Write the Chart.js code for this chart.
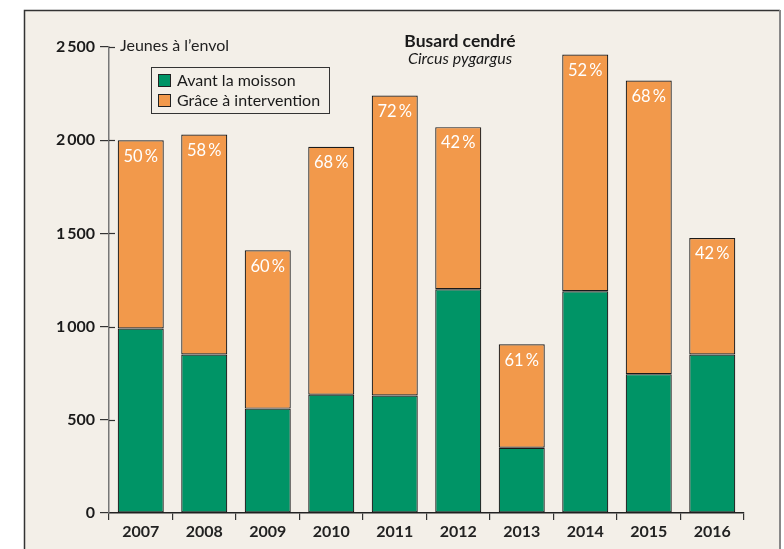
<!DOCTYPE html>
<html>
<head>
<meta charset="utf-8">
<script src="https://cdn.jsdelivr.net/npm/chart.js@4"></script>
<style>
  html, body { margin: 0; padding: 0; background: #fff; }
  #wrap { width: 784px; height: 549px; }
</style>
</head>
<body>
<div id="wrap"><canvas id="barChart" width="784" height="549"></canvas></div>
<script>
// values
const years = ["2007", "2008", "2009", "2010", "2011", "2012", "2013", "2014", "2015", "2016"];
const beforeHarvest = [990, 850, 560, 635, 630, 1200, 350, 1190, 745, 850];
const thanksToAction = [1010, 1180, 850, 1330, 1610, 870, 555, 1270, 1575, 625];
const shareLabels = ["50%", "58%", "60%", "68%", "72%", "42%", "61%", "52%", "68%", "42%"];
const yTicks = [0, 500, 1000, 1500, 2000, 2500];

const FONT = "Lato, 'Open Sans', sans-serif";
const GREEN = "#009466";
const ORANGE = "#f2994b";
const BEIGE = "#f3efe8";

// background frame + inner tick halves + percent labels + legend + titles
const decor = {
    id: "decor",
    beforeDraw(chart) {
        const ctx = chart.ctx;
        ctx.save();
        ctx.fillStyle = BEIGE;
        ctx.fillRect(24, 10, 756, 539);
        ctx.strokeStyle = "#333";
        ctx.lineWidth = 1.5;
        ctx.beginPath();
        ctx.moveTo(24.5, 549);
        ctx.lineTo(24.5, 10.5);
        ctx.lineTo(780, 10.5);
        ctx.stroke();
        ctx.strokeStyle = "#888";
        ctx.lineWidth = 2;
        ctx.beginPath();
        ctx.moveTo(780, 10);
        ctx.lineTo(780, 549);
        ctx.stroke();
        ctx.restore();
    },
    afterDraw(chart) {
        const ctx = chart.ctx;
        const y = chart.scales.y;
        const left = chart.chartArea.left;
        ctx.save();

        // y ticks cross the axis
        ctx.strokeStyle = "#333";
        ctx.lineWidth = 1.2;
        yTicks.forEach(v => {
            if (v === 0) return;
            const py = Math.round(y.getPixelForValue(v)) + 0.5;
            ctx.beginPath();
            ctx.moveTo(left, py);
            ctx.lineTo(left + 6, py);
            ctx.stroke();
        });

        // axis title next to top tick
        ctx.fillStyle = "#222";
        ctx.font = "16px " + FONT;
        ctx.textAlign = "left";
        ctx.textBaseline = "middle";
        ctx.fillText("Jeunes à l\u2019envol", left + 11, y.getPixelForValue(2500) - 1);

        // percent labels
        const meta = chart.getDatasetMeta(1);
        ctx.fillStyle = "#fff";
        ctx.font = "16.5px " + FONT;
        ctx.textAlign = "center";
        ctx.textBaseline = "middle";
        meta.data.forEach((bar, i) => {
            ctx.fillText(shareLabels[i].replace("%", "\u2009%"), bar.x, bar.y + 16);
        });

        // title
        ctx.fillStyle = "#1a1a1a";
        ctx.font = "bold 17.5px " + FONT;
        ctx.fillText("Busard cendré", 460, 41);
        ctx.font = "italic 16px " + FONT;
        ctx.fillText("Circus pygargus", 460, 59);

        // legend
        ctx.fillStyle = BEIGE;
        ctx.fillRect(151, 67, 178, 46);
        ctx.strokeStyle = "#333";
        ctx.lineWidth = 1;
        ctx.strokeRect(151.5, 67.5, 178, 46);
        chart.data.datasets.forEach((ds, i) => {
            const ly = 80 + i * 20;
            ctx.fillStyle = ds.backgroundColor;
            ctx.fillRect(158, ly - 6, 13, 13);
            ctx.strokeStyle = "#222";
            ctx.strokeRect(158.5, ly - 5.5, 12, 12);
            ctx.fillStyle = "#1a1a1a";
            ctx.font = "16px " + FONT;
            ctx.textAlign = "left";
            ctx.fillText(ds.label, 177, ly + 1);
        });
        ctx.restore();
    }
};

function createChart() {
    const ctx = document.getElementById("barChart").getContext("2d");
    new Chart(ctx, {
        type: "bar",
        data: {
            labels: years,
            datasets: [{
                label: "Avant la moisson",
                data: beforeHarvest,
                backgroundColor: GREEN,
                borderColor: "#1a1a1a",
                borderWidth: 1.2,
                borderSkipped: false,
                categoryPercentage: 0.725,
                barPercentage: 1
            }, {
                label: "Grâce à intervention",
                data: thanksToAction,
                backgroundColor: ORANGE,
                borderColor: "#1a1a1a",
                borderWidth: 1.2,
                borderSkipped: false,
                categoryPercentage: 0.725,
                barPercentage: 1
            }]
        },
        options: {
            responsive: false,
            animation: false,
            devicePixelRatio: 1,
            layout: { padding: { left: 0, top: 47, right: 40, bottom: 0 } },
            plugins: {
                legend: { display: false },
                tooltip: { enabled: false }
            },
            scales: {
                x: {
                    stacked: true,
                    afterFit: s => { s.height = 36; },
                    grid: {
                        offset: true,
                        drawOnChartArea: false,
                        drawTicks: true,
                        tickLength: 7,
                        color: "#333",
                        lineWidth: 1.2
                    },
                    border: { display: true, color: "#222", width: 1.5 },
                    ticks: {
                        color: "#222",
                        font: { family: FONT, size: 16, weight: "bold" },
                        padding: 2
                    }
                },
                y: {
                    stacked: true,
                    min: 0,
                    max: 2500,
                    afterFit: s => { s.width = 109; },
                    afterBuildTicks: s => { s.ticks = yTicks.map(v => ({ value: v })); },
                    grid: {
                        drawOnChartArea: false,
                        drawTicks: true,
                        tickLength: 9,
                        color: "#333",
                        lineWidth: 1.2
                    },
                    border: { display: true, color: "#777", width: 1.5 },
                    ticks: {
                        color: "#1a1a1a",
                        font: { family: FONT, size: 16, weight: "bold" },
                        padding: 5,
                        callback: v => String(v).replace(/\B(?=(\d{3})+(?!\d))/g, "\u2009")
                    }
                }
            }
        },
        plugins: [decor]
    });
}

window.onload = createChart;
</script>
</body>
</html>
